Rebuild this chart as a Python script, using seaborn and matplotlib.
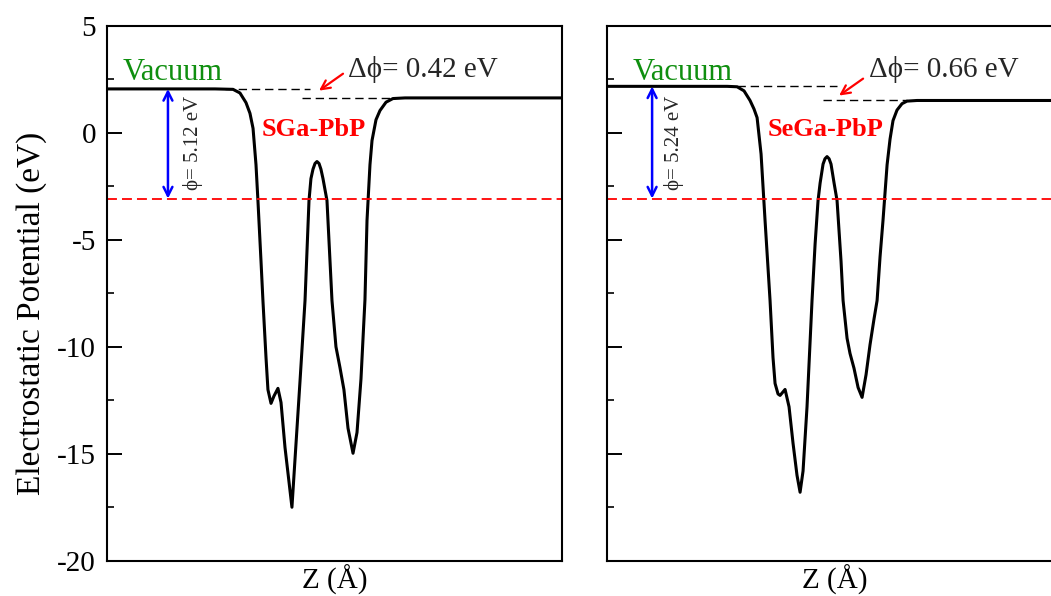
import numpy as np
import pandas as pd
import matplotlib
matplotlib.use("Agg")
import matplotlib.pyplot as plt
from matplotlib.ticker import MultipleLocator
import seaborn as sns

sns.set_theme(style="white")
plt.rcParams["font.family"] = ["Liberation Serif", "DejaVu Serif"]
plt.rcParams["axes.unicode_minus"] = False

# ── data (Z in Å, potential in eV) ──────────────────────────────────────────
z_sga = [0.0, 9.49, 11.08, 11.69, 12.22, 12.57, 12.84, 13.10, 13.27, 13.54,
         13.71, 13.98, 14.15, 14.42, 14.68, 15.03, 15.30, 15.65, 16.0, 16.26,
         16.62, 16.97, 17.41, 17.76, 17.93, 18.11, 18.29, 18.46, 18.64, 18.81,
         18.99, 19.34, 19.78, 20.13, 20.48, 20.83, 21.19, 21.63, 21.98, 22.33,
         22.68, 22.86, 23.12, 23.30, 23.65, 24.0, 24.53, 25.14, 26.20, 40.0]
v_sga = [2.04, 2.04, 2.02, 1.85, 1.4, 0.9, 0.2, -1.5, -3.17, -6.0,
         -7.84, -10.5, -12.0, -12.64, -12.3, -11.94, -12.6, -14.7, -16.3, -17.49,
         -14.5, -11.6, -7.84, -3.17, -2.15, -1.71, -1.44, -1.35, -1.44, -1.71,
         -2.15, -3.17, -7.84, -10.0, -10.96, -12.0, -13.8, -14.97, -14.0, -11.5,
         -7.8, -4.1, -1.5, -0.37, 0.6, 1.03, 1.42, 1.59, 1.62, 1.62]

z_sega = [0.0, 10.55, 11.43, 12.04, 12.57, 12.92, 13.19, 13.54, 13.89, 14.33,
          14.59, 14.77, 15.03, 15.21, 15.65, 16.0, 16.35, 16.70, 16.97, 17.23,
          17.58, 18.02, 18.29, 18.55, 18.73, 18.99, 19.16, 19.34, 19.52, 19.69,
          19.96, 20.22, 20.57, 20.75, 21.10, 21.36, 21.71, 22.07, 22.42, 22.77,
          23.12, 23.47, 23.74, 24.0, 24.26, 24.62, 24.88, 25.14, 25.49, 25.93,
          26.37, 27.25, 40.0]
v_sega = [2.16, 2.16, 2.14, 1.95, 1.5, 1.1, 0.7, -1.0, -4.1, -7.84,
          -10.5, -11.71, -12.2, -12.27, -11.99, -12.8, -14.5, -16.0, -16.79, -15.8,
          -12.8, -7.84, -5.2, -3.17, -2.36, -1.47, -1.22, -1.12, -1.22, -1.47,
          -2.36, -3.17, -6.0, -7.84, -9.6, -10.31, -11.0, -11.9, -12.36, -11.3,
          -9.9, -8.7, -7.84, -5.8, -4.1, -1.5, -0.3, 0.56, 1.05, 1.35,
          1.47, 1.50, 1.50]

systems = ["SGa-PbP", "SeGa-PbP"]
vacuum_left = [2.04, 2.16]
vacuum_right = [1.62, 1.50]
fermi = [-3.08, -3.08]
work_fn = ["5.12", "5.24"]
delta_phi = ["0.42", "0.66"]

# annotation spots (Z)
arrow_z = [5.36, 3.96]
phi_txt_z = [7.56, 5.89]
vac_txt_z = [1.41, 2.29]
sys_txt_z = [13.63, 14.15]
dphi_txt_z = [21.19, 23.03]
dash_up = [(10.37, 17.85), (11.43, 20.22)]
dash_lo = [(17.14, 25.32), (18.99, 26.37)]
red_from = [(20.75, 2.75), (22.51, 2.52)]
red_to = [(18.64, 1.96), (20.40, 1.73)]

curves = [pd.DataFrame({"z": z_sga, "v": v_sga}),
          pd.DataFrame({"z": z_sega, "v": v_sega})]

fig = plt.figure(figsize=(10.51, 5.96), dpi=100)
ax1 = fig.add_axes([0.1018, 0.0587, 0.4329, 0.8985])
ax2 = fig.add_axes([0.5776, 0.0587, 0.4329, 0.8985], sharey=ax1)
axes = [ax1, ax2]

for i, ax in enumerate(axes):
    df = curves[i]
    sns.lineplot(data=df, x="z", y="v", ax=ax, color="black", lw=2.2,
                 sort=False, estimator=None)
    ax.axhline(fermi[i], color="#ff0000", lw=1.3, ls=(0, (5.5, 2.8)))
    ax.plot(dash_up[i], [vacuum_left[i]] * 2, color="black", lw=1.0, ls=(0, (6, 3.5)))
    ax.plot(dash_lo[i], [vacuum_right[i]] * 2, color="black", lw=1.0, ls=(0, (6, 3.5)))

    ax.annotate("", xy=(arrow_z[i], fermi[i]), xytext=(arrow_z[i], vacuum_left[i]),
                arrowprops=dict(arrowstyle="<->", color="#0000ff", lw=1.8,
                                mutation_scale=16, shrinkA=0, shrinkB=0))
    ax.annotate("", xy=red_to[i], xytext=red_from[i],
                arrowprops=dict(arrowstyle="->", color="#ff0000", lw=1.6,
                                mutation_scale=16, shrinkA=0, shrinkB=0))

    ax.text(phi_txt_z[i], -0.47, f"\u03d5= {work_fn[i]} eV", rotation=90,
            ha="center", va="center", fontsize=15)
    ax.text(vac_txt_z[i], 2.47, "Vacuum", color="#0f8f0f", fontsize=22,
            ha="left", va="baseline")
    ax.text(sys_txt_z[i], -0.18, systems[i], color="#ff0000", fontsize=19,
            fontweight="bold", ha="left", va="baseline")
    ax.text(dphi_txt_z[i], 2.6, f"\u0394\u03d5= {delta_phi[i]} eV", fontsize=21,
            ha="left", va="baseline")

    ax.set_xlim(0, 40)
    ax.set_ylim(-20, 5)
    ax.set_yticks([-20, -15, -10, -5, 0, 5])
    ax.yaxis.set_minor_locator(MultipleLocator(2.5))
    ax.tick_params(axis="y", which="major", direction="in", length=10.5, width=1.4,
                   left=True, right=False, labelsize=21, pad=8, colors="black")
    ax.tick_params(axis="y", which="minor", direction="in", length=5, width=1.4,
                   left=True, right=False)
    ax.tick_params(axis="x", bottom=False, labelbottom=False)
    for sp in ax.spines.values():
        sp.set_color("black")
        sp.set_linewidth(1.5)
    ax.set_xlabel("Z (\u00c5)", fontsize=21, labelpad=3, color="black")
    ax.set_ylabel("")

ax2.tick_params(axis="y", labelleft=False)
ax1.set_ylabel("Electrostatic Potential (eV)", fontsize=24, color="black")
ax1.yaxis.set_label_coords(-0.132, 0.463)

fig.savefig("out.png", dpi=100)
